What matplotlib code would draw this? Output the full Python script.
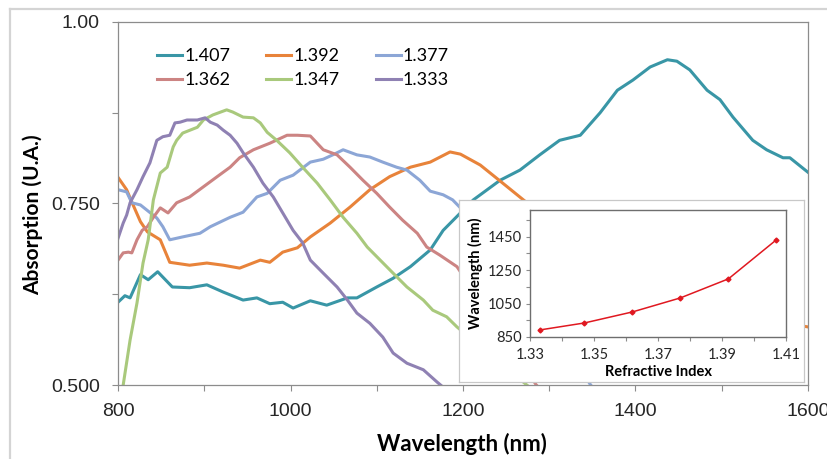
import matplotlib
matplotlib.use("Agg")
import matplotlib.pyplot as plt
from matplotlib.lines import Line2D

# --- main spectra (wavelength nm, absorption U.A.) ---
wl_1407 = [800, 808, 814, 826, 835, 846, 863, 883, 903, 922, 945, 961, 976, 991, 1003,
           1023, 1042, 1066, 1077, 1100, 1119, 1139, 1162, 1177, 1212, 1243, 1266, 1289,
           1312, 1336, 1359, 1379, 1397, 1417, 1437, 1448, 1463, 1483, 1498, 1513, 1536,
           1552, 1571, 1579, 1600]
abs_1407 = [0.614, 0.623, 0.620, 0.652, 0.645, 0.656, 0.635, 0.634, 0.638, 0.628, 0.617,
            0.620, 0.612, 0.614, 0.606, 0.616, 0.610, 0.620, 0.620, 0.635, 0.647, 0.663,
            0.686, 0.713, 0.755, 0.782, 0.796, 0.817, 0.837, 0.844, 0.875, 0.906, 0.920,
            0.938, 0.948, 0.946, 0.934, 0.906, 0.893, 0.869, 0.837, 0.824, 0.813, 0.813,
            0.793]

wl_1392 = [800, 810, 816, 826, 834, 849, 860, 883, 903, 922, 941, 965, 976, 991, 1008,
           1023, 1046, 1069, 1092, 1115, 1139, 1162, 1185, 1197, 1220, 1243, 1270, 1350,
           1450, 1550, 1600]
abs_1392 = [0.786, 0.769, 0.752, 0.725, 0.711, 0.700, 0.669, 0.665, 0.668, 0.665, 0.661,
            0.672, 0.669, 0.683, 0.689, 0.704, 0.723, 0.745, 0.769, 0.787, 0.800, 0.807,
            0.821, 0.818, 0.803, 0.781, 0.755, 0.680, 0.620, 0.590, 0.580]

wl_1377 = [800, 810, 816, 826, 845, 852, 860, 875, 895, 907, 930, 945, 961, 973, 988,
           1003, 1023, 1038, 1049, 1061, 1077, 1092, 1107, 1123, 1135, 1150, 1162, 1177,
           1188, 1197, 1250, 1300, 1348, 1380]
abs_1377 = [0.769, 0.766, 0.751, 0.748, 0.730, 0.718, 0.700, 0.704, 0.709, 0.718, 0.731,
            0.738, 0.759, 0.764, 0.782, 0.789, 0.807, 0.811, 0.817, 0.824, 0.817, 0.814,
            0.807, 0.800, 0.796, 0.782, 0.767, 0.762, 0.755, 0.744, 0.680, 0.590, 0.500,
            0.460]

wl_1362 = [800, 806, 812, 816, 822, 828, 834, 841, 849, 858, 868, 883, 899, 915, 930, 941,
           957, 976, 996, 1008, 1023, 1038, 1054, 1069, 1084, 1100, 1115, 1130, 1147,
           1158, 1173, 1193, 1240, 1285, 1320]
abs_1362 = [0.672, 0.682, 0.683, 0.682, 0.700, 0.713, 0.718, 0.731, 0.744, 0.737, 0.751,
            0.759, 0.773, 0.787, 0.800, 0.813, 0.824, 0.833, 0.844, 0.844, 0.843, 0.824,
            0.817, 0.800, 0.782, 0.764, 0.745, 0.727, 0.709, 0.690, 0.679, 0.663, 0.580,
            0.500, 0.460]

wl_1347 = [800, 806, 814, 822, 829, 835, 841, 849, 857, 864, 868, 875, 892, 899, 910, 926,
           933, 945, 957, 965, 973, 984, 999, 1014, 1031, 1046, 1061, 1077, 1089, 1104,
           1119, 1135, 1154, 1165, 1181, 1193, 1274, 1300]
abs_1347 = [0.455, 0.500, 0.562, 0.613, 0.668, 0.700, 0.755, 0.792, 0.800, 0.828, 0.837,
            0.847, 0.855, 0.865, 0.872, 0.879, 0.876, 0.869, 0.868, 0.861, 0.848, 0.837,
            0.820, 0.800, 0.778, 0.755, 0.731, 0.709, 0.690, 0.672, 0.654, 0.635, 0.617,
            0.603, 0.594, 0.580, 0.500, 0.475]

wl_1333 = [800, 806, 810, 814, 822, 829, 837, 845, 852, 860, 866, 872, 880, 892, 901, 907,
           915, 922, 930, 938, 945, 957, 968, 980, 991, 1003, 1014, 1023, 1038, 1054, 1066,
           1077, 1092, 1107, 1119, 1135, 1154, 1170, 1177, 1200]
abs_1333 = [0.702, 0.723, 0.734, 0.751, 0.769, 0.787, 0.806, 0.837, 0.842, 0.844, 0.861,
            0.862, 0.865, 0.865, 0.868, 0.862, 0.858, 0.851, 0.844, 0.833, 0.820, 0.800,
            0.778, 0.759, 0.737, 0.713, 0.696, 0.672, 0.654, 0.635, 0.617, 0.599, 0.585,
            0.566, 0.544, 0.530, 0.521, 0.504, 0.497, 0.470]

labels = ['1.407', '1.392', '1.377', '1.362', '1.347', '1.333']
colors = ['#3996a6', '#e8833a', '#8ca6d6', '#cc8483', '#a9c97c', '#8f81b3']

# --- inset: peak wavelength vs refractive index ---
ri = [1.333, 1.347, 1.362, 1.377, 1.392, 1.407]
peak_wl = [892, 934, 1000, 1084, 1198, 1432]

fig = plt.figure(figsize=(8.27, 4.59), dpi=100)

# light outer frame
fig.add_artist(Line2D([0.0121, 0.0121], [0, 0.9804], color='#d4d4d4', lw=1.6))
fig.add_artist(Line2D([0.0121, 1], [0.9804, 0.9804], color='#d4d4d4', lw=1.6))

ax = fig.add_axes([0.1427, 0.1612, 0.8343, 0.7909])
series = [(wl_1407, abs_1407), (wl_1392, abs_1392), (wl_1377, abs_1377),
          (wl_1362, abs_1362), (wl_1347, abs_1347), (wl_1333, abs_1333)]
for (x, y), lab, c in zip(series, labels, colors):
    ax.plot(x, y, color=c, lw=2.2, label=lab)

ax.set_xlim(800, 1600)
ax.set_ylim(0.5, 1.0)
ax.set_xticks(range(800, 1601, 100))
ax.set_xticklabels(['800', '', '1000', '', '1200', '', '1400', '', '1600'])
ax.set_yticks([0.5, 0.625, 0.75, 0.875, 1.0])
ax.set_yticklabels(['0.500', '', '0.750', '', '1.00'])
for s in ax.spines.values():
    s.set_color('#8c8c8c')
    s.set_linewidth(0.9)
ax.tick_params(length=4, color='#8c8c8c', labelsize=14, labelcolor='#262626')
ax.tick_params(axis='x', pad=9)
ax.tick_params(axis='y', pad=9)
for t in ax.get_xticklabels() + ax.get_yticklabels():
    t.set_family('Liberation Sans')

ax.set_xlabel('Wavelength (nm)', fontsize=16, fontweight='bold', family='Lato')
ax.set_ylabel('Absorption (U.A.)', fontsize=15, fontweight='bold', family='Lato')
ax.xaxis.set_label_coords(0.4986, -0.133)
ax.yaxis.set_label_coords(-0.1087, 0.468)

h, l = ax.get_legend_handles_labels()
order = [0, 3, 1, 4, 2, 5]
leg = ax.legend([h[i] for i in order], [l[i] for i in order], ncol=3,
                loc='upper left', bbox_to_anchor=(0.0565, 0.928), frameon=False,
                borderpad=0, borderaxespad=0, handlelength=1.4, handletextpad=0.1,
                columnspacing=2.0, labelspacing=0.45,
                prop={'family': 'Lato', 'size': 13})

# inset box
box = fig.add_axes([0.555, 0.1678, 0.417, 0.3965])
box.set_xticks([])
box.set_yticks([])
box.set_facecolor('white')
for s in box.spines.values():
    s.set_color('#c8c8c8')
    s.set_linewidth(0.9)

ins = fig.add_axes([0.6409, 0.2658, 0.3096, 0.2767])
ins.plot(ri, peak_wl, color='#e01820', lw=1.1, marker='D', markersize=2.5)
ins.set_xlim(1.33, 1.41)
ins.set_ylim(850, 1610)
ins.set_xticks([1.33, 1.34, 1.35, 1.36, 1.37, 1.38, 1.39, 1.40, 1.41])
ins.set_xticklabels(['1.33', '', '1.35', '', '1.37', '', '1.39', '', '1.41'])
ins.set_yticks(range(850, 1551, 100))
ins.set_yticklabels(['850', '', '1050', '', '1250', '', '1450', ''])
for s in ins.spines.values():
    s.set_color('#6e6e6e')
    s.set_linewidth(1.0)
ins.tick_params(length=3, color='#8c8c8c', labelsize=10.5, labelcolor='#262626', pad=3)
ins.tick_params(axis='x', pad=5)
for t in ins.get_xticklabels() + ins.get_yticklabels():
    t.set_family('Lato')
ins.set_xlabel('Refractive Index', fontsize=10.5, fontweight='bold', family='Lato', labelpad=2)
ins.set_ylabel('Wavelength (nm)', fontsize=10.5, fontweight='bold', family='Lato', labelpad=3)

fig.savefig('out.png', dpi=100)
